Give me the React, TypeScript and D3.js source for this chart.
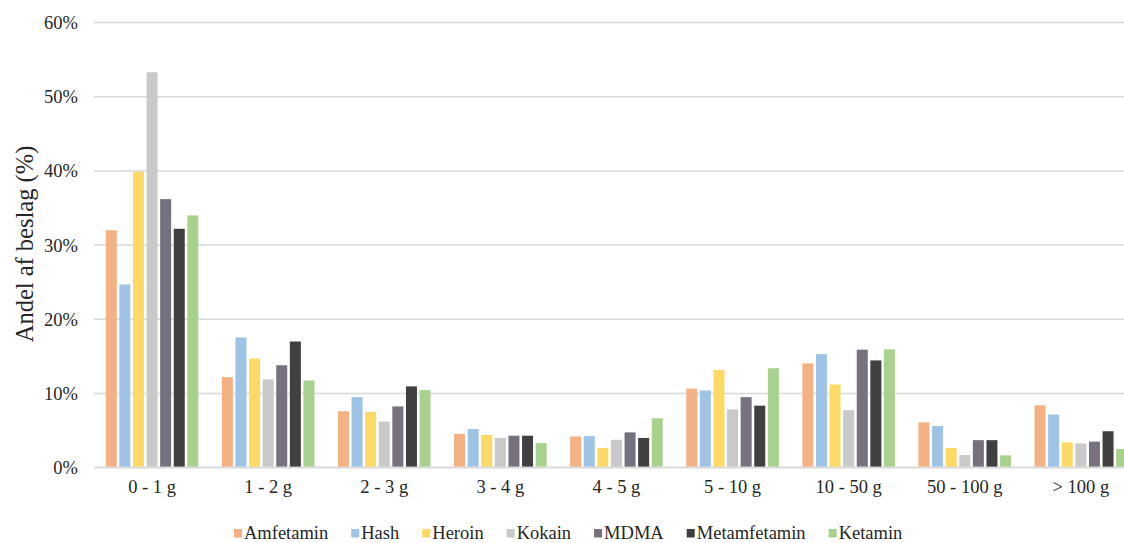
import React from "react";
import * as d3 from "d3";

const categories = ["0 - 1 g", "1 - 2 g", "2 - 3 g", "3 - 4 g", "4 - 5 g", "5 - 10 g", "10 - 50 g", "50 - 100 g", "> 100 g"];
const seriesNames = ["Amfetamin", "Hash", "Heroin", "Kokain", "MDMA", "Metamfetamin", "Ketamin"];
const seriesColors = ["#F4B183", "#9DC3E6", "#FFD966", "#C9C9C9", "#76707F", "#404040", "#A9D18E"];

const amfetamin = [32.0, 12.2, 7.6, 4.55, 4.2, 10.65, 14.05, 6.1, 8.4];
const hash = [24.7, 17.55, 9.5, 5.2, 4.25, 10.4, 15.3, 5.6, 7.15];
const heroin = [39.9, 14.7, 7.5, 4.4, 2.65, 13.15, 11.2, 2.65, 3.4];
const kokain = [53.3, 11.9, 6.2, 4.0, 3.75, 7.85, 7.75, 1.7, 3.25];
const mdma = [36.2, 13.8, 8.25, 4.3, 4.75, 9.5, 15.9, 3.7, 3.5];
const metamfetamin = [32.2, 17.0, 10.95, 4.3, 4.0, 8.35, 14.45, 3.7, 4.9];
const ketamin = [34.0, 11.75, 10.45, 3.3, 6.65, 13.4, 15.95, 1.65, 2.5];

const seriesValues = [amfetamin, hash, heroin, kokain, mdma, metamfetamin, ketamin];
const yTicks = [0, 10, 20, 30, 40, 50, 60];

const FONT = '"Liberation Serif", "DejaVu Serif", "Times New Roman", serif';

function measure(text: string, size: number): number {
  const c = document.createElement("canvas");
  const ctx = c.getContext("2d");
  if (!ctx) return text.length * size * 0.5;
  ctx.font = `${size}px ${FONT}`;
  return ctx.measureText(text).width;
}

export default function App() {
  const W = 1124;
  const H = 543;
  const left = 94;
  const step = 116.1;
  const top = 22.6;
  const bottom = 467.6;

  const x = d3.scaleBand<string>().domain(categories).range([left, left + step * categories.length]).padding(0);
  const inner = d3
    .scaleBand<string>()
    .domain(seriesNames)
    .range([10.45, step - 10.45])
    .padding(0);
  const y = d3.scaleLinear().domain([0, 60]).range([bottom, top]);

  const bw = inner.bandwidth();
  const gap = 2.6;

  const legendFont = 18.5;
  let lx = 234;
  const legendItems = seriesNames.map((name, i) => {
    const item = { name, color: seriesColors[i], x: lx };
    lx += 10 + measure(name, legendFont) + 23;
    return item;
  });

  const textStyle = { fontFamily: FONT };

  return (
    <svg
      width={W}
      height={H}
      style={{ position: "absolute", left: 0, top: 0, background: "#fff", fontFamily: FONT }}
    >
      {yTicks.map((t) => (
        <g key={t}>
          <line x1={left} x2={W} y1={y(t)} y2={y(t)} stroke="#D9D9D9" strokeWidth={t === 0 ? 2 : 1.5} />
          <text x={78} y={y(t)} dy="0.35em" textAnchor="end" fontSize={18.5} fill="#262626" style={textStyle}>
            {t}%
          </text>
        </g>
      ))}
      {seriesNames.map((s, si) => (
        <g key={s}>
          {categories.map((c, ci) => {
            const v = seriesValues[si][ci];
            const bx = (x(c) ?? 0) + (inner(s) ?? 0) + gap / 2;
            return (
              <rect
                key={c}
                x={bx}
                y={y(v)}
                width={bw - gap}
                height={y(0) - y(v) - 1}
                fill={seriesColors[si]}
              />
            );
          })}
        </g>
      ))}
      {categories.map((c) => (
        <text
          key={c}
          x={(x(c) ?? 0) + step / 2}
          y={493}
          textAnchor="middle"
          fontSize={18.5}
          fill="#262626"
          style={textStyle}
        >
          {c}
        </text>
      ))}
      <text
        transform={`translate(33, 244) rotate(-90)`}
        textAnchor="middle"
        fontSize={24.5}
        fill="#262626"
        style={textStyle}
      >
        Andel af beslag (%)
      </text>
      {legendItems.map((it) => (
        <g key={it.name}>
          <rect x={it.x} y={529} width={8} height={8.5} fill={it.color} />
          <text x={it.x + 10} y={538.5} fontSize={legendFont} fill="#262626" style={textStyle}>
            {it.name}
          </text>
        </g>
      ))}
    </svg>
  );
}
